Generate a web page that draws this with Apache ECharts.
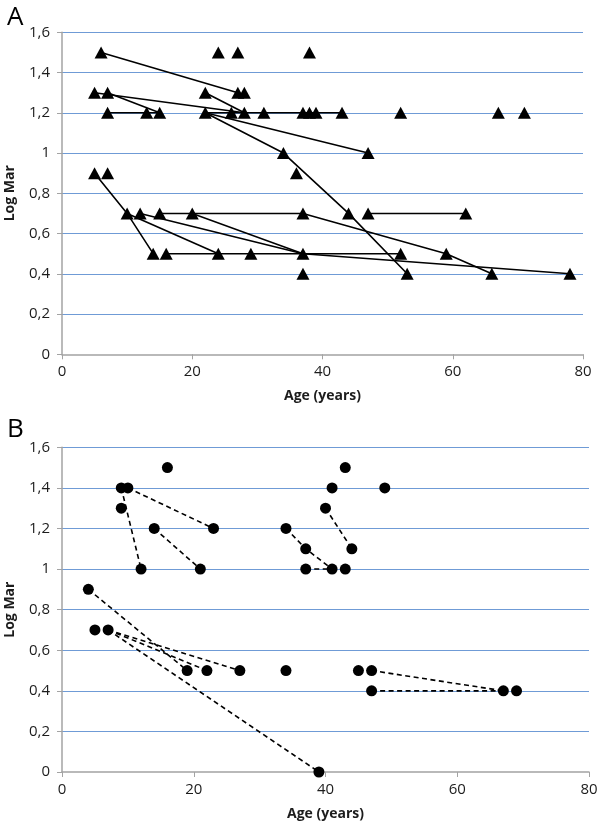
<!DOCTYPE html>
<html>
<head>
<meta charset="utf-8">
<script src="https://cdn.jsdelivr.net/npm/echarts@6/dist/echarts.min.js"></script>
<style>
html,body{margin:0;padding:0;background:#fff;}
#chart{width:600px;height:824px;}
</style>
</head>
<body>
<div id="chart"></div>
<script>
// ---------- Data ----------
const yTicks = [0, 0.2, 0.4, 0.6, 0.8, 1, 1.2, 1.4, 1.6];
const xTicks = [0, 20, 40, 60, 80];
const panelLabels = ['A', 'B'];
const xTitle = 'Age (years)';
const yTitle = 'Log Mar';

// Panel A: individual measurements (age, logMAR)
const pointsA = [
  [6,1.5],[24,1.5],[27,1.5],[38,1.5],
  [5,1.3],[7,1.3],[22,1.3],[27,1.3],[28,1.3],
  [7,1.2],[13,1.2],[15,1.2],[22,1.2],[26,1.2],[28,1.2],[31,1.2],[37,1.2],[38,1.2],[39,1.2],[43,1.2],[52,1.2],[67,1.2],[71,1.2],
  [34,1.0],[47,1.0],
  [5,0.9],[7,0.9],[36,0.9],
  [10,0.7],[12,0.7],[15,0.7],[20,0.7],[37,0.7],[44,0.7],[47,0.7],[62,0.7],
  [14,0.5],[16,0.5],[24,0.5],[29,0.5],[37,0.5],[52,0.5],[59,0.5],
  [37,0.4],[53,0.4],[66,0.4],[78,0.4]
];
// Panel A: follow-up connections (solid)
const linksA = [
  [[6,1.5],[27,1.3]],
  [[5,1.3],[28,1.2]],
  [[7,1.3],[15,1.2]],
  [[7,1.2],[15,1.2]],
  [[22,1.3],[28,1.2]],
  [[22,1.2],[43,1.2]],
  [[22,1.2],[47,1.0]],
  [[22,1.2],[34,1.0],[44,0.7],[53,0.4]],
  [[5,0.9],[10,0.7],[14,0.5]],
  [[10,0.7],[24,0.5]],
  [[12,0.7],[37,0.5]],
  [[20,0.7],[37,0.5]],
  [[15,0.7],[37,0.7],[59,0.5],[66,0.4]],
  [[47,0.7],[62,0.7]],
  [[16,0.5],[52,0.5]],
  [[37,0.5],[78,0.4]]
];

// Panel B: individual measurements (age, logMAR)
const pointsB = [
  [16,1.5],[43,1.5],
  [9,1.4],[10,1.4],[41,1.4],[49,1.4],
  [9,1.3],[40,1.3],
  [14,1.2],[23,1.2],[34,1.2],
  [37,1.1],[44,1.1],
  [12,1.0],[21,1.0],[37,1.0],[41,1.0],[43,1.0],
  [4,0.9],
  [5,0.7],[7,0.7],
  [19,0.5],[22,0.5],[27,0.5],[34,0.5],[45,0.5],[47,0.5],
  [47,0.4],[67,0.4],[69,0.4],
  [39,0.0]
];
// Panel B: follow-up connections (dashed)
const linksB = [
  [[10,1.4],[23,1.2]],
  [[9,1.4],[12,1.0]],
  [[14,1.2],[21,1.0]],
  [[34,1.2],[37,1.1],[41,1.0]],
  [[40,1.3],[44,1.1]],
  [[37,1.0],[41,1.0]],
  [[4,0.9],[19,0.5]],
  [[7,0.7],[22,0.5]],
  [[7,0.7],[27,0.5]],
  [[7,0.7],[39,0.0]],
  [[47,0.5],[67,0.4]],
  [[47,0.4],[67,0.4]]
];

// ---------- Styling / options ----------
const FONT = 'Open Sans';
const gridColor = '#6f9bd6';
const axisColor = '#a3a3a3';
const textColor = '#1c1c1c';

function fmtY(v){ return String(Math.round(v*10)/10).replace('.', ','); }

function makeX(gridIndex){
  return {
    type:'value', gridIndex, min:xTicks[0], max:xTicks[xTicks.length-1], interval:20,
    name:xTitle, nameLocation:'middle', nameGap:35,
    nameTextStyle:{fontFamily:FONT, fontWeight:'bold', fontSize:14, color:textColor},
    axisLine:{show:true, onZero:false, lineStyle:{color:axisColor, width:1.5}},
    axisTick:{show:true, length:5, lineStyle:{color:axisColor, width:1}},
    axisLabel:{fontFamily:FONT, fontSize:15, color:textColor, margin:10},
    splitLine:{show:false}
  };
}
function makeY(gridIndex){
  return {
    type:'value', gridIndex, min:yTicks[0], max:yTicks[yTicks.length-1], interval:0.2,
    name:yTitle, nameLocation:'middle', nameGap:45,
    nameTextStyle:{fontFamily:FONT, fontWeight:'bold', fontSize:14, color:textColor},
    axisLine:{show:true, onZero:false, lineStyle:{color:axisColor, width:1.5}},
    axisTick:{show:true, length:5, lineStyle:{color:axisColor, width:1}},
    axisLabel:{fontFamily:FONT, fontSize:15, color:textColor, margin:12, formatter:fmtY},
    splitLine:{show:true, showMinLine:false, lineStyle:{color:gridColor, width:1.2}}
  };
}

const series = [];
linksA.forEach(seg => series.push({
  type:'line', xAxisIndex:0, yAxisIndex:0, data:seg, showSymbol:false, symbol:'none',
  lineStyle:{color:'#000', width:1.6}, z:2, silent:true
}));
series.push({
  type:'scatter', xAxisIndex:0, yAxisIndex:0, data:pointsA, symbol:'triangle', symbolSize:[13,12],
  itemStyle:{color:'#000', opacity:1}, z:5
});
linksB.forEach(seg => series.push({
  type:'line', xAxisIndex:1, yAxisIndex:1, data:seg, showSymbol:false, symbol:'none',
  lineStyle:{color:'#000', width:1.6, type:[5,3.5]}, z:2, silent:true
}));
series.push({
  type:'scatter', xAxisIndex:1, yAxisIndex:1, data:pointsB, symbol:'circle', symbolSize:11,
  itemStyle:{color:'#000', opacity:1}, z:5
});

const option = {
  animation:false,
  backgroundColor:'#fff',
  title:[
    {text:panelLabels[0], left:2, top:0, textStyle:{fontFamily:FONT, fontSize:26, fontWeight:'normal', color:'#000'}},
    {text:panelLabels[1], left:2, top:412, textStyle:{fontFamily:FONT, fontSize:26, fontWeight:'normal', color:'#000'}}
  ],
  grid:[
    {left:62, top:32.3, width:521, height:322, containLabel:false, outerBoundsMode:'none'},
    {left:62, top:447.3, width:527, height:324.7, containLabel:false, outerBoundsMode:'none'}
  ],
  xAxis:[makeX(0), makeX(1)],
  yAxis:[makeY(0), makeY(1)],
  series
};

const chart = echarts.init(document.getElementById('chart'), null, {renderer:'canvas'});
chart.setOption(option);
</script>
</body>
</html>
